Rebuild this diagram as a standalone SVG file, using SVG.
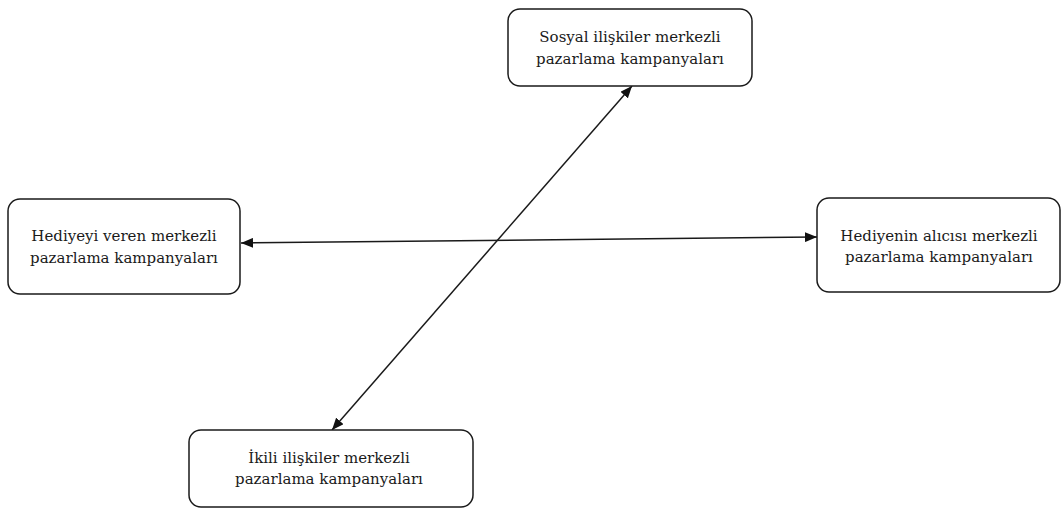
<svg xmlns="http://www.w3.org/2000/svg" width="1062" height="509" viewBox="0 0 1062 509">
  <style>
    .box { fill: #ffffff; stroke: #1a1a1a; stroke-width: 1.5; }
    .label { font-family: "DejaVu Serif", "Liberation Serif", serif; font-size: 15px; fill: #1a1a1a; text-anchor: middle; }
    .link { stroke: #1a1a1a; stroke-width: 1.5; fill: none; marker-start: url(#arrow); marker-end: url(#arrow); }
  </style>
  <defs>
    <marker id="arrow" viewBox="0 0 12 10" refX="12" refY="5" markerWidth="12" markerHeight="10" markerUnits="userSpaceOnUse" orient="auto-start-reverse">
      <path d="M0,0 L12,5 L0,10 z" fill="#111111"/>
    </marker>
  </defs>
  <rect width="1062" height="509" fill="#ffffff"/>

  <g id="connectors">
    <line class="link" x1="241" y1="243" x2="817" y2="237"/>
    <line class="link" x1="332" y1="430" x2="632" y2="86"/>
  </g>

  <g id="node-social">
    <rect class="box" x="508" y="9" width="244" height="77" rx="12"/>
    <text class="label" x="630" y="42">Sosyal ilişkiler merkezli</text>
    <text class="label" x="630" y="64">pazarlama kampanyaları</text>
  </g>

  <g id="node-giver">
    <rect class="box" x="8" y="199" width="232" height="95" rx="12"/>
    <text class="label" x="124" y="241">Hediyeyi veren merkezli</text>
    <text class="label" x="124" y="263">pazarlama kampanyaları</text>
  </g>

  <g id="node-receiver">
    <rect class="box" x="817" y="198" width="243" height="94" rx="12"/>
    <text class="label" x="939" y="241">Hediyenin alıcısı merkezli</text>
    <text class="label" x="939" y="262">pazarlama kampanyaları</text>
  </g>

  <g id="node-dyadic">
    <rect class="box" x="189" y="430" width="284" height="77" rx="12"/>
    <text class="label" x="329" y="463">İkili ilişkiler merkezli</text>
    <text class="label" x="329" y="484">pazarlama kampanyaları</text>
  </g>
</svg>
